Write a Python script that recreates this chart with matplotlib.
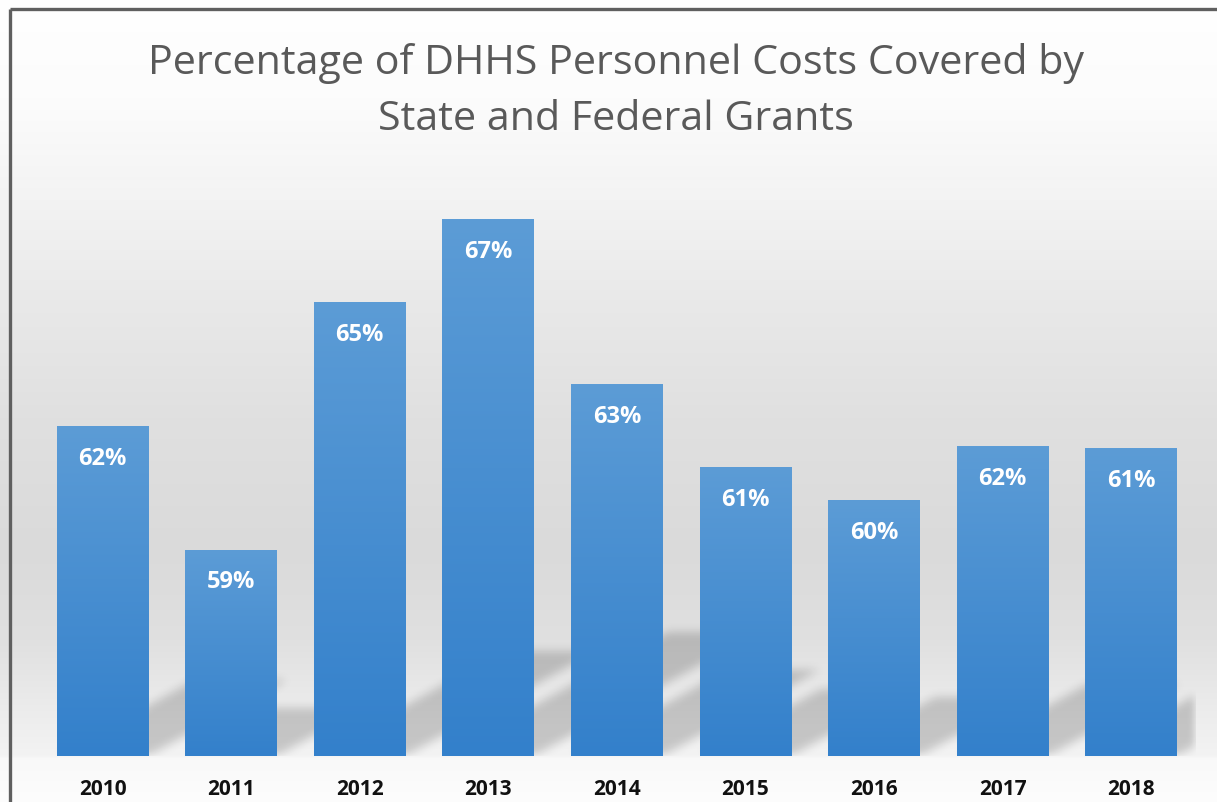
import numpy as np
import matplotlib
matplotlib.use('Agg')
import matplotlib.pyplot as plt
from matplotlib.path import Path
from matplotlib.colors import to_rgb

# Data
years = ['2010', '2011', '2012', '2013', '2014', '2015', '2016', '2017', '2018']
pct = [62.0, 59.0, 65.0, 67.0, 63.0, 61.0, 60.2, 61.5, 61.45]
pct_labels = ['62%', '59%', '65%', '67%', '63%', '61%', '60%', '62%', '61%']

y_min, y_max = 54, 68
bar_w = 0.715

W, H, DPI = 1217, 803, 100
fig = plt.figure(figsize=(W / DPI, H / DPI), dpi=DPI)

# Figure background gradient (light at top, grey in middle, light below the bars)
stops_px = [0, 100, 200, 300, 420, 550, 640, 700, 756, 759, 803]
stops_gray = [1.0, 0.988, 0.953, 0.914, 0.878, 0.855, 0.878, 0.918, 0.953, 0.976, 0.992]
rows = np.arange(H)
gray = np.interp(rows, stops_px, stops_gray)
bg = np.repeat(gray[:, None], 2, axis=1)
bg_ax = fig.add_axes([0, 0, 1, 1], zorder=-5)
bg_ax.imshow(np.dstack([bg, bg, bg]), aspect='auto', extent=(0, 1, 0, 1), origin='upper')
bg_ax.set_xlim(0, 1)
bg_ax.set_ylim(0, 1)
bg_ax.axis('off')

# Frame (left and top edges visible)
bg_ax.plot([9.5 / W, 9.5 / W], [0, 1 - 9.5 / H], color='#5f5f5f', lw=2.4, solid_capstyle='butt')
bg_ax.plot([9.5 / W, 1], [1 - 9.5 / H, 1 - 9.5 / H], color='#5f5f5f', lw=2.4, solid_capstyle='butt')

ax_left, ax_right = 38.2, 1195.6
ax_bottom, ax_top = 757, 757 - (y_max - y_min) * 41.3
ax = fig.add_axes([ax_left / W, 1 - ax_bottom / H, (ax_right - ax_left) / W, (ax_bottom - ax_top) / H])
ax.patch.set_alpha(0)
x = np.arange(len(years))
ax.set_xlim(-0.5, len(years) - 0.5)
ax.set_ylim(y_min, y_max)

# Soft perspective shadows cast by the bars
px_per_cat = (ax_right - ax_left) / len(years)
px_per_unit = (ax_bottom - ax_top) / (y_max - y_min)
nx, ny = int(ax_right - ax_left), int(ax_bottom - ax_top)
gx = np.linspace(-0.5, len(years) - 0.5, nx)
gy = np.linspace(y_min, y_max, ny)
GX, GY = np.meshgrid(gx, gy)
pts = np.column_stack([GX.ravel(), GY.ravel()])
mask = np.zeros(GX.size)
for xi, v in zip(x, pct):
    h_px = (v - y_min) * px_per_unit
    dx = 0.42 * h_px / px_per_cat
    dy = 0.23 * (v - y_min)
    poly = Path([(xi - bar_w / 2, y_min), (xi + bar_w / 2, y_min),
                 (xi + bar_w / 2 + dx, y_min + dy), (xi - bar_w / 2 + dx, y_min + dy)])
    mask = np.maximum(mask, poly.contains_points(pts).astype(float))
mask = mask.reshape(GX.shape)


def box_blur(a, r, axis):
    k = np.ones(2 * r + 1) / (2 * r + 1)
    return np.apply_along_axis(lambda m: np.convolve(m, k, mode='same'), axis, a)


for _ in range(3):
    mask = box_blur(mask, 4, 0)
    mask = box_blur(mask, 4, 1)
shadow = np.zeros((ny, nx, 4))
shadow[..., 3] = mask * 0.18
ax.imshow(shadow, extent=(-0.5, len(years) - 0.5, y_min, y_max), origin='lower',
          aspect='auto', zorder=1)

# Bars with a vertical blue gradient
top_c = np.array(to_rgb('#5c9cd6'))
bot_c = np.array(to_rgb('#3380cb'))
bars = ax.bar(x, [v - y_min for v in pct], bottom=y_min, width=bar_w, color='none',
              edgecolor='none', zorder=2)
for b in bars:
    t = np.linspace(0, 1, 256)[:, None]
    grad = bot_c[None, :] * (1 - t) + top_c[None, :] * t
    grad = np.repeat(grad[:, None, :], 2, axis=1)
    im = ax.imshow(grad, extent=(b.get_x(), b.get_x() + b.get_width(), y_min, b.get_y() + b.get_height()),
                   origin='lower', aspect='auto', zorder=2)
    im.set_clip_path(b)

ax.set_xlim(-0.5, len(years) - 0.5)
ax.set_ylim(y_min, y_max)

for xi, v, lab in zip(x, pct, pct_labels):
    ax.annotate(lab, (xi, v), xytext=(0, -23), textcoords='offset points',
                ha='center', va='center', color='white', fontsize=17,
                fontweight='bold', family='Open Sans', zorder=3)

ax.set_xticks(x, years)
ax.set_yticks([])
ax.tick_params(axis='x', length=0, pad=15.5)
for lbl in ax.get_xticklabels():
    lbl.set_fontsize(15)
    lbl.set_fontweight('bold')
    lbl.set_family('Open Sans')
    lbl.set_color('#111111')
for s in ax.spines.values():
    s.set_visible(False)

fig.text(616 / W, 1 - 74 / H, 'Percentage of DHHS Personnel Costs Covered by', ha='center',
         va='baseline', fontsize=29.7, color='#595959', family='Open Sans')
fig.text(616 / W, 1 - 130 / H, 'State and Federal Grants', ha='center',
         va='baseline', fontsize=29.7, color='#595959', family='Open Sans')

fig.savefig('out.png', dpi=DPI)
